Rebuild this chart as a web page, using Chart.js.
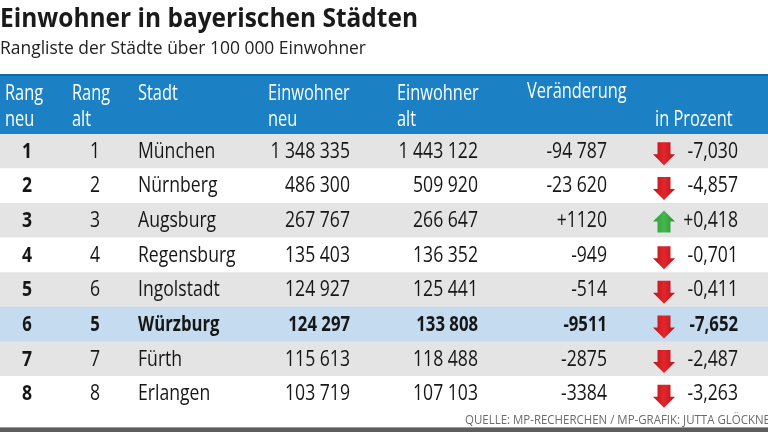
<!DOCTYPE html>
<html lang="de">
<head>
<meta charset="utf-8">
<title>Einwohner in bayerischen Städten</title>
<script src="https://cdn.jsdelivr.net/npm/chart.js@4.4.1/dist/chart.umd.min.js"></script>
<style>
  html, body { margin: 0; padding: 0; background: #fff; }
  #tabelle { display: block; }
</style>
</head>
<body>
<canvas id="tabelle" width="768" height="432"></canvas>
<script>
// Daten aus der Grafik
const rangNeu = [1, 2, 3, 4, 5, 6, 7, 8];
const rangAlt = [1, 2, 3, 4, 6, 5, 7, 8];
const staedte = ['München', 'Nürnberg', 'Augsburg', 'Regensburg', 'Ingolstadt', 'Würzburg', 'Fürth', 'Erlangen'];
const einwohnerNeu = [1348335, 486300, 267767, 135403, 124927, 124297, 115613, 103719];
const einwohnerAlt = [1443122, 509920, 266647, 136352, 125441, 133808, 118488, 107103];
const veraenderung = [-94787, -23620, 1120, -949, -514, -9511, -2875, -3384];
const prozent = [-7.030, -4.857, 0.418, -0.701, -0.411, -7.652, -2.487, -3.263];

const hervorgehoben = 'Würzburg';

// Layout (x in Pixel der x-Achse 0..768)
const FONT = '"Open Sans", sans-serif';
const BLAU = '#1b80c4';
const spalten = {
    rangNeu: 27, rangAlt: 95, stadt: 138,
    einwNeu: 350, einwAlt: 478, veraend: 607, pfeil: 664, prozent: 738
};

function zahl(n, plus) {
    const a = Math.abs(n).toString();
    const s = Math.abs(n) >= 10000 ? a.replace(/\B(?=(\d{3})+(?!\d))/g, ' ') : a;
    if (n < 0) return '-' + s;
    return (plus ? '+' : '') + s;
}

function proz(p) {
    return (p < 0 ? '-' : '+') + Math.abs(p).toFixed(3).replace('.', ',');
}

// Text mit horizontaler Stauchung (Condensed-Schrift nachbilden)
function schreib(ctx, text, x, y, o) {
    ctx.save();
    ctx.font = (o.bold ? 'bold ' : '') + o.size + 'px ' + FONT;
    ctx.fillStyle = o.color || '#161616';
    ctx.textBaseline = 'alphabetic';
    let sx = o.scale || 0.8;
    if (o.width) sx = o.width / ctx.measureText(text).width;
    ctx.translate(x, y);
    ctx.scale(sx, 1);
    ctx.textAlign = o.align || 'left';
    ctx.fillText(text, 0, 0);
    ctx.restore();
}

function pfeil(ctx, x, y, hoch) {
    ctx.save();
    const g = ctx.createLinearGradient(x - 11, 0, x + 11, 0);
    if (hoch) {
        g.addColorStop(0, '#2e9a3a'); g.addColorStop(0.5, '#45b84c'); g.addColorStop(1, '#2c9136');
    } else {
        g.addColorStop(0, '#b8161c'); g.addColorStop(0.5, '#e3262c'); g.addColorStop(1, '#b5151b');
    }
    ctx.fillStyle = g;
    ctx.beginPath();
    if (hoch) {
        ctx.moveTo(x, y - 11);
        ctx.lineTo(x + 11, y);
        ctx.lineTo(x + 6.5, y);
        ctx.lineTo(x + 6.5, y + 11);
        ctx.lineTo(x - 6.5, y + 11);
        ctx.lineTo(x - 6.5, y);
        ctx.lineTo(x - 11, y);
    } else {
        ctx.moveTo(x - 6.5, y - 10);
        ctx.lineTo(x + 6.5, y - 10);
        ctx.lineTo(x + 6.5, y + 2);
        ctx.lineTo(x + 11, y + 2);
        ctx.lineTo(x, y + 13);
        ctx.lineTo(x - 11, y + 2);
        ctx.lineTo(x - 6.5, y + 2);
    }
    ctx.closePath();
    ctx.fill();
    ctx.restore();
}

const tabellenPlugin = {
    id: 'tabelle',
    afterDraw(chart) {
        const ctx = chart.ctx;
        const xs = chart.scales.x;
        const ys = chart.scales.y;
        const X = v => xs.getPixelForValue(v);

        // Titel
        schreib(ctx, 'Einwohner in bayerischen Städten', 0, 27, { size: 27, bold: true, width: 418, color: '#1a1a1a' });
        schreib(ctx, 'Rangliste der Städte über 100 000 Einwohner', 0, 54, { size: 19, width: 366, color: '#222' });

        // Kopfzeile
        ctx.fillStyle = BLAU;
        ctx.fillRect(0, 74, chart.width, 60);
        ctx.fillStyle = '#106aa7';
        ctx.fillRect(0, 74, chart.width, 2);
        const w = { size: 21, color: '#fff', scale: 0.78 };
        schreib(ctx, 'Rang', 5, 100, w);
        schreib(ctx, 'neu', 5, 126, w);
        schreib(ctx, 'Rang', 72, 100, w);
        schreib(ctx, 'alt', 72, 126, w);
        schreib(ctx, 'Stadt', 138, 100, w);
        schreib(ctx, 'Einwohner', 268, 100, w);
        schreib(ctx, 'neu', 268, 126, w);
        schreib(ctx, 'Einwohner', 397, 100, w);
        schreib(ctx, 'alt', 397, 126, w);
        schreib(ctx, 'Veränderung', 527, 98, w);
        schreib(ctx, 'in Prozent', 655, 126, w);

        // Zeilen
        staedte.forEach((stadt, i) => {
            const y = ys.getPixelForValue(i);
            const b = y + 6.5;
            const fett = stadt === hervorgehoben;
            const t = { size: 22, bold: fett, scale: fett ? 0.76 : 0.8 };
            schreib(ctx, String(rangNeu[i]), X(spalten.rangNeu), b, { ...t, bold: true, align: 'center' });
            schreib(ctx, String(rangAlt[i]), X(spalten.rangAlt), b, { ...t, align: 'center' });
            schreib(ctx, stadt, X(spalten.stadt), b, t);
            schreib(ctx, zahl(einwohnerNeu[i]), X(spalten.einwNeu), b, { ...t, align: 'right' });
            schreib(ctx, zahl(einwohnerAlt[i]), X(spalten.einwAlt), b, { ...t, align: 'right' });
            schreib(ctx, zahl(veraenderung[i], true), X(spalten.veraend), b, { ...t, align: 'right' });
            pfeil(ctx, X(spalten.pfeil), y + 1, prozent[i] > 0);
            schreib(ctx, proz(prozent[i]), X(spalten.prozent), b, { ...t, align: 'right' });
        });

        // Quelle und Fußleiste
        schreib(ctx, 'QUELLE: MP-RECHERCHEN / MP-GRAFIK: JUTTA GLÖCKNER', 465, 424, { size: 13, width: 312, color: '#6b6b6b' });
        ctx.fillStyle = '#9a9a9a';
        ctx.fillRect(0, 427, chart.width, 1);
        ctx.fillStyle = '#5e5e5e';
        ctx.fillRect(0, 428, chart.width, 4);
    }
};

const zeilenFarben = staedte.map((s, i) =>
    s === hervorgehoben ? '#c5dcf0' : (i % 2 === 0 ? '#e4e4e4' : '#ffffff'));

new Chart(document.getElementById('tabelle'), {
    type: 'bar',
    data: {
        labels: staedte,
        datasets: [{
            label: 'Zeilen',
            data: staedte.map(() => [0, 768]),
            backgroundColor: zeilenFarben,
            borderWidth: 0,
            barPercentage: 1,
            categoryPercentage: 1
        }]
    },
    options: {
        indexAxis: 'y',
        responsive: false,
        animation: false,
        devicePixelRatio: 1,
        layout: { padding: { top: 134, bottom: 21, left: 0, right: 0 } },
        scales: {
            x: { type: 'linear', min: 0, max: 768, display: false },
            y: { type: 'category', display: false }
        },
        plugins: {
            legend: { display: false },
            tooltip: { enabled: false }
        }
    },
    plugins: [tabellenPlugin]
});
</script>
</body>
</html>
